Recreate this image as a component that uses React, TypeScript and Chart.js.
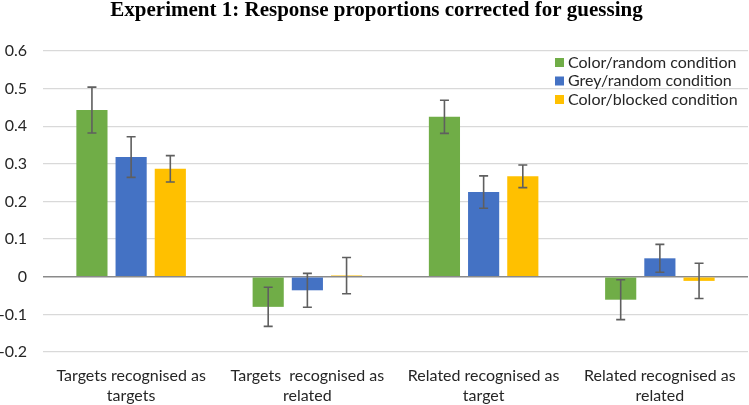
import React, { useEffect, useRef } from "react";
import { Chart, registerables } from "chart.js";

Chart.register(...registerables);

const categories: string[][] = [
  ["Targets recognised as", "targets"],
  ["Targets  recognised as", "related"],
  ["Related recognised as", "target"],
  ["Related recognised as", "related"],
];

const seriesNames = [
  "Color/random condition",
  "Grey/random condition",
  "Color/blocked condition",
];

const colorRandom = [0.443, -0.08, 0.425, -0.061];
const greyRandom = [0.318, -0.036, 0.225, 0.049];
const colorBlocked = [0.287, 0.003, 0.267, -0.011];

const colorRandomErr = [0.061, 0.052, 0.044, 0.053];
const greyRandomErr = [0.054, 0.045, 0.043, 0.037];
const colorBlockedErr = [0.035, 0.048, 0.03, 0.047];

const yTicks = [-0.2, -0.1, 0, 0.1, 0.2, 0.3, 0.4, 0.5, 0.6];

const titleText = "Experiment 1: Response proportions corrected for guessing";

const seriesColors = ["#70ad47", "#4472c4", "#ffc000"];
const errors = [colorRandomErr, greyRandomErr, colorBlockedErr];

const FONT = "Lato, 'Open Sans', sans-serif";
const TEXT = "#262626";

const errorBarPlugin = {
  id: "errorBars",
  afterDatasetsDraw(chart: any) {
    const ctx = chart.ctx;
    const yScale = chart.scales.y;
    ctx.save();
    ctx.strokeStyle = "#5f5f5f";
    ctx.lineWidth = 1.6;
    chart.data.datasets.forEach((ds: any, di: number) => {
      const meta = chart.getDatasetMeta(di);
      meta.data.forEach((bar: any, i: number) => {
        const v = ds.data[i];
        const e = errors[di][i];
        const x = bar.x;
        const yTop = yScale.getPixelForValue(v + e);
        const yBot = yScale.getPixelForValue(v - e);
        const cap = 4.5;
        ctx.beginPath();
        ctx.moveTo(x, yTop);
        ctx.lineTo(x, yBot);
        ctx.moveTo(x - cap, yTop);
        ctx.lineTo(x + cap, yTop);
        ctx.moveTo(x - cap, yBot);
        ctx.lineTo(x + cap, yBot);
        ctx.stroke();
      });
    });
    ctx.restore();
  },
};

const titleAndLegendPlugin = {
  id: "titleAndLegend",
  afterDraw(chart: any) {
    const ctx = chart.ctx;
    ctx.save();
    ctx.fillStyle = "#000000";
    ctx.font = "bold 21px 'Liberation Serif', 'Times New Roman', serif";
    ctx.textAlign = "center";
    ctx.textBaseline = "alphabetic";
    ctx.fillText(titleText, chart.width / 2 + 2, 16);

    ctx.font = `16px ${FONT}`;
    ctx.textAlign = "left";
    ctx.textBaseline = "middle";
    const rows = [62.5, 81, 99.5];
    chart.data.datasets.forEach((ds: any, di: number) => {
      const y = rows[di];
      ctx.fillStyle = ds.backgroundColor;
      ctx.fillRect(555, y - 4.5, 9, 9);
      ctx.fillStyle = TEXT;
      ctx.fillText(ds.label, 568, y);
    });
    ctx.restore();
  },
};

export default function App() {
  const canvasRef = useRef<HTMLCanvasElement | null>(null);

  useEffect(() => {
    if (!canvasRef.current) return;
    const datasets = [colorRandom, greyRandom, colorBlocked].map((d, i) => ({
      label: seriesNames[i],
      data: d,
      backgroundColor: seriesColors[i],
      borderWidth: 0,
      categoryPercentage: 0.667,
      barPercentage: 0.795,
    }));

    const chart = new Chart(canvasRef.current, {
      type: "bar",
      data: { labels: categories, datasets },
      options: {
        animation: false,
        responsive: false,
        maintainAspectRatio: false,
        layout: { padding: { top: 51, left: 0, right: 1, bottom: 0 } },
        plugins: {
          legend: { display: false },
          title: { display: false },
          tooltip: { enabled: false },
        },
        scales: {
          x: {
            grid: { display: false },
            border: { display: false },
            ticks: {
              color: TEXT,
              font: { family: FONT, size: 16, lineHeight: 1.25 },
              padding: 6,
              maxRotation: 0,
              autoSkip: false,
            },
            afterFit(scale: any) {
              scale.height = 53;
            },
          },
          y: {
            min: -0.2,
            max: 0.6,
            afterBuildTicks(scale: any) {
              scale.ticks = yTicks.map((v) => ({ value: v }));
            },
            grid: {
              color: (c: any) =>
                c.tick && Math.abs(c.tick.value) < 1e-9 ? "#8a8a8a" : "#d9d9d9",
              lineWidth: (c: any) =>
                c.tick && Math.abs(c.tick.value) < 1e-9 ? 1.5 : 1.3,
              drawTicks: false,
            },
            border: { display: false },
            ticks: {
              color: TEXT,
              font: { family: FONT, size: 16 },
              padding: 16,
              callback: (v: any) => String(Number(Number(v).toFixed(1))),
            },
            afterFit(scale: any) {
              scale.width = 43;
            },
          },
        },
      },
      plugins: [errorBarPlugin, titleAndLegendPlugin],
    });
    return () => chart.destroy();
  }, []);

  return (
    <div
      style={{
        position: "fixed",
        left: 0,
        top: 0,
        width: 749,
        height: 405,
        background: "#ffffff",
      }}
    >
      <canvas ref={canvasRef} width={749} height={405} />
    </div>
  );
}
